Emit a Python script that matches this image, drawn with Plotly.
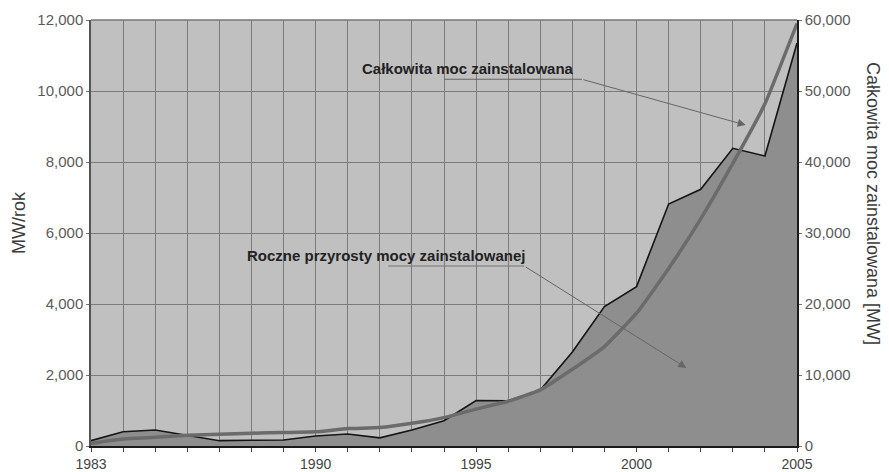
import plotly.graph_objects as go

years = list(range(1983, 2006))
annual_mw = [150, 400, 450, 310, 150, 160, 170, 280, 340, 230, 450, 710,
             1280, 1276, 1577, 2650, 3925, 4490, 6817, 7230, 8385, 8170, 11350]
cumulative_mw = [380, 990, 1220, 1500, 1640, 1800, 1900, 2000, 2450, 2600, 3200, 4000,
                 5200, 6300, 7900, 10800, 14000, 18700, 25000, 32000, 39800, 48200, 59500]
x_labels = {1983: "1983", 1990: "1990", 1995: "1995", 2000: "2000", 2005: "2005"}

FONT = "Liberation Sans, Arial, sans-serif"

fig = go.Figure()
fig.add_trace(go.Scatter(
    x=years, y=annual_mw, mode="lines", fill="tozeroy",
    line=dict(color="#151515", width=1.6), fillcolor="#8e8e8e",
    yaxis="y", showlegend=False, hoverinfo="skip"))
fig.add_trace(go.Scatter(
    x=years, y=cumulative_mw, mode="lines",
    line=dict(color="#6b6b6b", width=3.5, shape="spline", smoothing=0.4),
    yaxis="y2", showlegend=False, hoverinfo="skip"))

fig.update_layout(
    width=889, height=472,
    margin=dict(l=91, r=92, t=20, b=26, autoexpand=False),
    paper_bgcolor="white", plot_bgcolor="#c0c0c0",
    font=dict(family=FONT, size=14, color="#555555"),
    xaxis=dict(
        range=[1983, 2005], tickvals=years,
        ticktext=[x_labels.get(y, "") for y in years],
        showgrid=True, gridcolor="#7c7c7c", gridwidth=1,
        ticks="outside", ticklen=4, tickcolor="#444444",
        showline=True, linecolor="#1a1a1a", linewidth=1.5,
        zeroline=False, tickfont=dict(size=14, color="#444444"),
        automargin=False, mirror=False),
    yaxis=dict(
        range=[0, 12000], tickvals=list(range(0, 12001, 2000)), tickformat=",d",
        showgrid=True, gridcolor="#7c7c7c", gridwidth=1,
        showline=True, linecolor="#555555", linewidth=1.5,
        ticks="outside", ticklen=3, tickcolor="#777777",
        zeroline=False, tickfont=dict(size=15, color="#5a5a5a"), automargin=False),
    yaxis2=dict(
        range=[0, 60000], tickvals=list(range(0, 60001, 10000)), tickformat=",d",
        overlaying="y", side="right", showgrid=False,
        showline=True, linecolor="#1a1a1a", linewidth=1.5,
        ticks="outside", ticklen=3, tickcolor="#777777",
        zeroline=False, tickfont=dict(size=15, color="#5a5a5a"), automargin=False),
)

# top frame line
fig.add_shape(type="line", xref="paper", yref="paper", x0=0, x1=1, y0=1, y1=1,
              line=dict(color="#777777", width=1.5))

# axis titles
fig.add_annotation(text="MW/rok", xref="paper", yref="paper", x=-0.102, y=0.526,
                   textangle=-90, showarrow=False,
                   font=dict(size=18, color="#3a3a3a"), xanchor="center", yanchor="middle")
fig.add_annotation(text="Całkowita moc zainstalowana [MW]", xref="paper", yref="paper",
                   x=1.108, y=0.57, textangle=90, showarrow=False,
                   font=dict(size=18, color="#3a3a3a"), xanchor="center", yanchor="middle")

# label 1: total installed
fig.add_annotation(text="<b>Całkowita moc zainstalowana</b>", x=1994.75, y=10640,
                   xref="x", yref="y", showarrow=False,
                   font=dict(size=15, color="#222222"))
fig.add_shape(type="line", xref="x", yref="y", x0=1994.0, x1=1998.3, y0=10330, y1=10330,
              line=dict(color="#666666", width=1))
fig.add_annotation(text="", x=2003.4, y=9040, ax=1998.3, ay=10330,
                   xref="x", yref="y", axref="x", ayref="y",
                   showarrow=True, arrowhead=2, arrowsize=1.6, arrowwidth=1,
                   arrowcolor="#666666", standoff=0)

# label 2: annual increments
fig.add_annotation(text="<b>Roczne przyrosty mocy zainstalowanej</b>", x=1992.2, y=5360,
                   xref="x", yref="y", showarrow=False,
                   font=dict(size=15, color="#222222"))
fig.add_shape(type="line", xref="x", yref="y", x0=1992.26, x1=1996.5, y0=5070, y1=5070,
              line=dict(color="#777777", width=1))
fig.add_annotation(text="", x=2001.55, y=2200, ax=1996.5, ay=5070,
                   xref="x", yref="y", axref="x", ayref="y",
                   showarrow=True, arrowhead=2, arrowsize=1.6, arrowwidth=1,
                   arrowcolor="#666666", standoff=0)

fig.write_html("out.html", config={"displayModeBar": False},
               post_script="document.body.style.margin='0';document.body.style.padding='0';")
